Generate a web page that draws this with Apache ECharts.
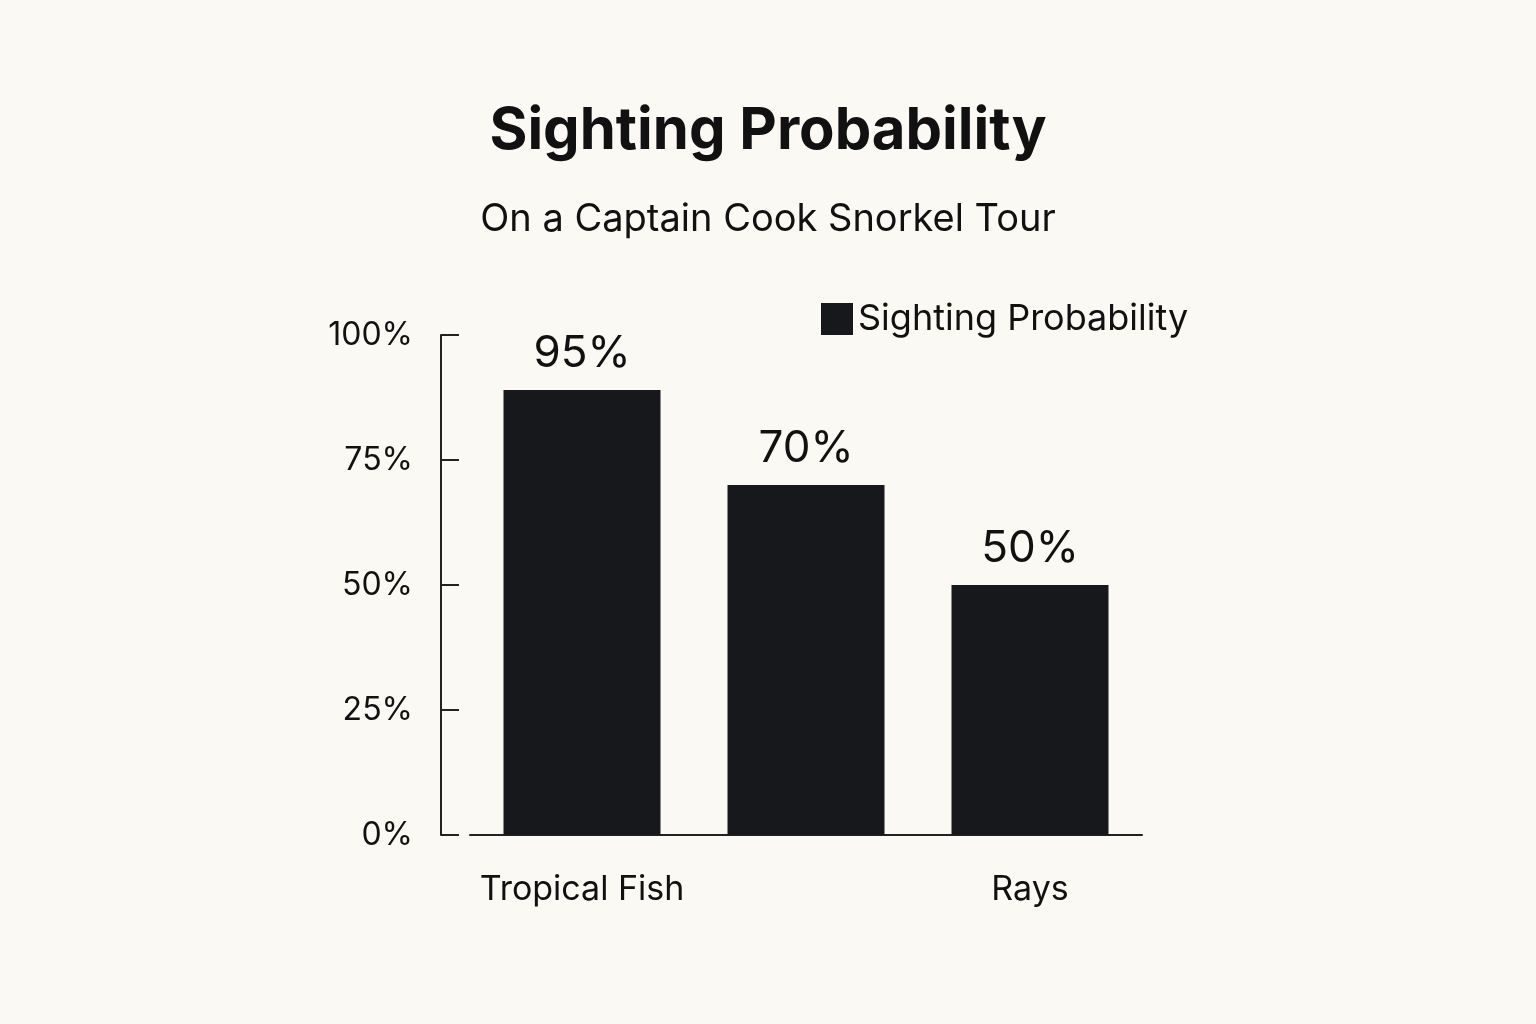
<!DOCTYPE html><html><head><meta charset="utf-8">
<script src="https://cdn.jsdelivr.net/npm/echarts@6/dist/echarts.min.js"></script>
<style>body{margin:0;background:#fbf9f4}#c{width:1536px;height:1024px}</style></head><body><div id="c"></div>
<script>
const categories = ["Tropical Fish", "Sea Turtles", "Rays"];
const barHeights = [89, 70, 50];
const valueLabels = ["95%", "70%", "50%"];
const yTickLabels = {0: "0%", 25: "25%", 50: "50%", 75: "75%", 100: "100%"};
const c = echarts.init(document.getElementById('c'));
const font = "Inter, 'Noto Sans', sans-serif";
c.setOption({
  backgroundColor: '#fbf9f4',
  textStyle: {fontFamily: font, color: '#111'},
  title: [
    {text: 'Sighting Probability', left: 'center', top: 98, textStyle: {fontSize: 58, fontWeight: 'bold', color: '#111', fontFamily: font}},
    {text: 'On a Captain Cook Snorkel Tour', left: 'center', top: 196, textStyle: {fontSize: 38, fontWeight: 'normal', color: '#111', fontFamily: font}}
  ],
  legend: {left: 816, top: 296, itemWidth: 32, itemHeight: 32, itemGap: 10, icon: 'rect',
    textStyle: {fontSize: 36, color: '#111', fontFamily: font}, data: ['Sighting Probability']},
  grid: {left: 470, right: 394, top: 335, bottom: 189},
  xAxis: {type: 'category', data: categories,
    axisLine: {lineStyle: {color: '#222', width: 2}}, axisTick: {show: false},
    axisLabel: {fontSize: 34, color: '#111', margin: 38}},
  yAxis: {type: 'value', min: 0, max: 100, interval: 25, offset: 29,
    axisLine: {show: true, lineStyle: {color: '#222', width: 2}},
    axisTick: {show: true, inside: true, length: 18, lineStyle: {color: '#222', width: 2}},
    splitLine: {show: false},
    axisLabel: {fontSize: 32, color: '#111', margin: 28, formatter: v => yTickLabels[v]}},
  series: [{name: 'Sighting Probability', type: 'bar', data: barHeights, barWidth: 157,
    itemStyle: {color: '#16181b'},
    label: {show: true, position: 'top', distance: 14, fontSize: 44, color: '#111',
      formatter: p => valueLabels[p.dataIndex]}}]
});
</script></body></html>
